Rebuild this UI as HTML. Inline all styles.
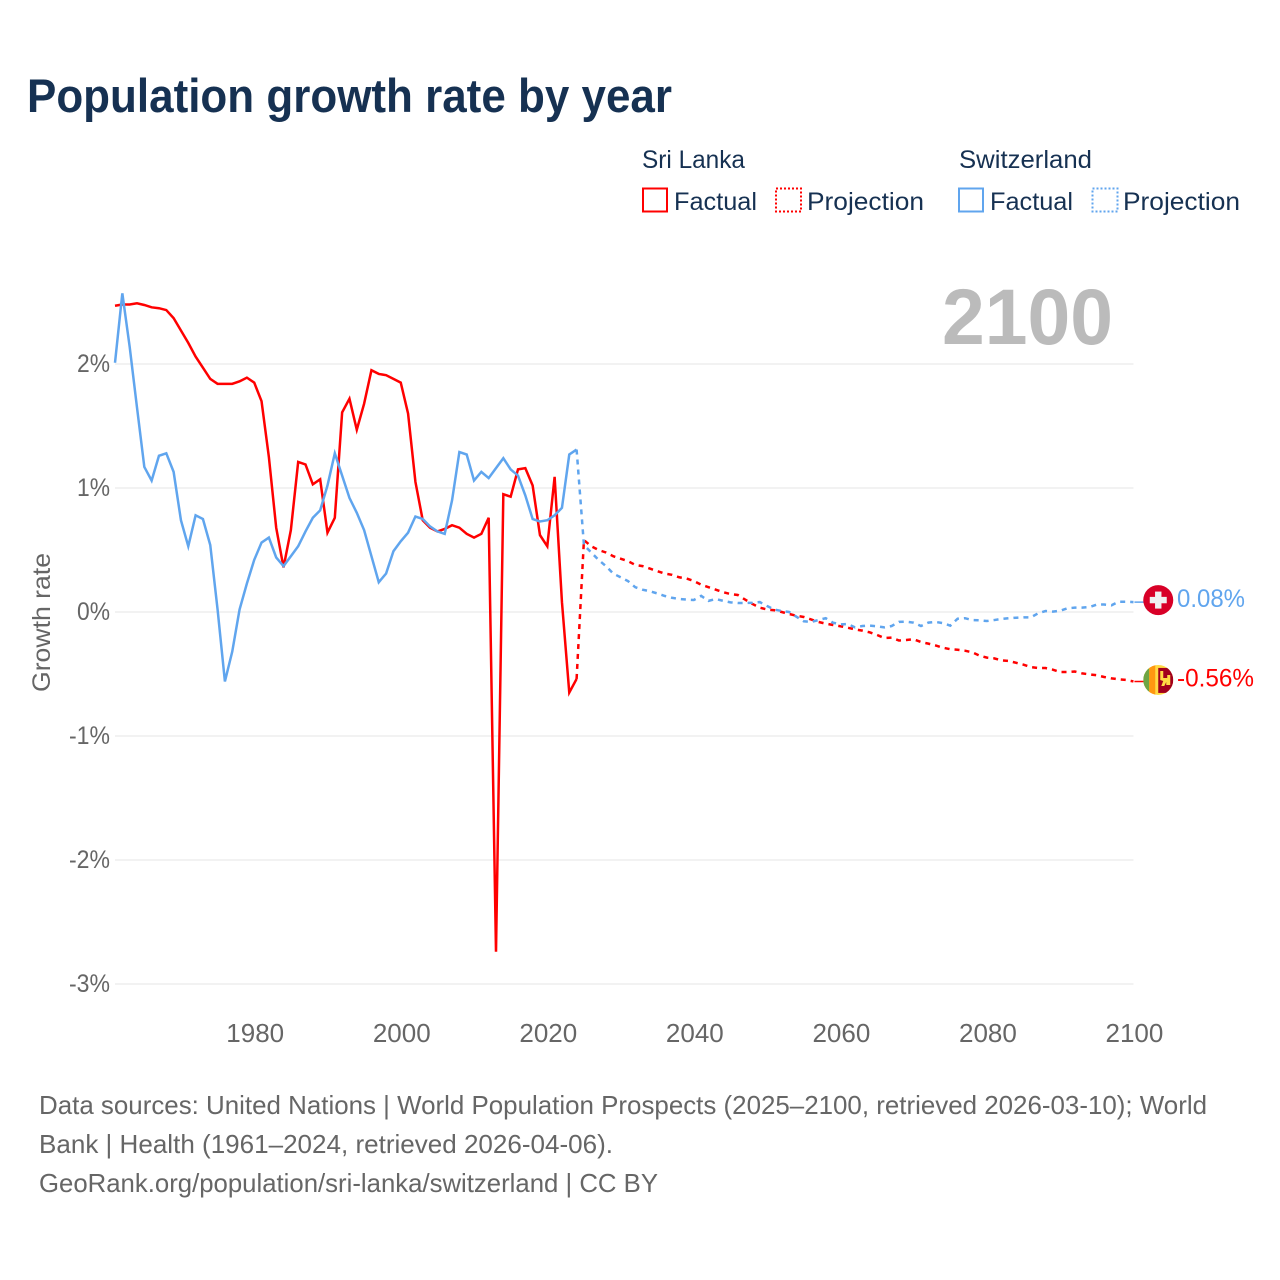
<!DOCTYPE html>
<html lang="en">
<head>
<meta charset="utf-8">
<title>Population growth rate by year</title>
<style>
html,body{margin:0;padding:0;background:#fff;width:1280px;height:1280px;overflow:hidden}
svg{display:block}
text{font-family:"Liberation Sans",sans-serif}
</style>
</head>
<body>
<svg id="chart" xmlns="http://www.w3.org/2000/svg" width="1280" height="1280" viewBox="0 0 1280 1280">
  <text x="27" y="112" font-size="47" font-weight="700" fill="#163152" textLength="645" lengthAdjust="spacingAndGlyphs">Population growth rate by year</text>

  <g fill="#163152" font-size="25">
    <text x="642" y="168" textLength="103" lengthAdjust="spacingAndGlyphs">Sri Lanka</text>
    <rect x="643" y="188.500" width="24" height="23" fill="none" stroke="#ff0000" stroke-width="2"/>
    <text x="674" y="210" textLength="83" lengthAdjust="spacingAndGlyphs">Factual</text>
    <rect x="776" y="188.500" width="25" height="23" fill="none" stroke="#ff0000" stroke-width="2" stroke-dasharray="2 2"/>
    <text x="807" y="210" textLength="117" lengthAdjust="spacingAndGlyphs">Projection</text>
    <text x="959" y="168" textLength="133" lengthAdjust="spacingAndGlyphs">Switzerland</text>
    <rect x="959" y="188.500" width="24" height="23" fill="none" stroke="#60a5ee" stroke-width="2"/>
    <text x="990" y="210" textLength="83" lengthAdjust="spacingAndGlyphs">Factual</text>
    <rect x="1092.500" y="188.500" width="25" height="23" fill="none" stroke="#60a5ee" stroke-width="2" stroke-dasharray="2 2"/>
    <text x="1123" y="210" textLength="117" lengthAdjust="spacingAndGlyphs">Projection</text>
  </g>

  <g id="grid"></g>
  <text x="1113" y="344" text-anchor="end" font-size="79" font-weight="700" fill="#bbbbbb" textLength="171" lengthAdjust="spacingAndGlyphs">2100</text>
  <g id="y-ticks"></g>
  <g id="x-ticks"></g>
  <text transform="translate(50,692) rotate(-90)" font-size="25" fill="#666666" textLength="139" lengthAdjust="spacingAndGlyphs">Growth rate</text>

  <g id="series"></g>

  <defs>
    <clipPath id="flag-clip"><circle cx="0" cy="0" r="15"/></clipPath>
  </defs>
  <g id="flag-ch">
    <circle cx="0" cy="0" r="15" fill="#d80027"/>
    <rect x="-8.500" y="-3.200" width="17" height="6.400" fill="#f0f0f0"/>
    <rect x="-3.200" y="-8.500" width="6.400" height="17" fill="#f0f0f0"/>
  </g>
  <g id="flag-lk">
    <g clip-path="url(#flag-clip)">
      <rect x="-15" y="-15" width="30" height="30" fill="#ffda44"/>
      <rect x="-15" y="-15" width="6" height="30" fill="#6da544"/>
      <rect x="-9" y="-15" width="6" height="30" fill="#ff9811"/>
      <rect x="0" y="-12" width="15" height="25" fill="#a2001d"/>
      <polygon points="2,-9 5,-9 5,-2 9,-2 9,-5 12,-5 12,5 8,5 8,2 6,6 3,6 5,1 2,0" fill="#ffda44"/>
    </g>
  </g>
  <text id="label-ch" x="1177" y="607" font-size="25" fill="#60a5ee" textLength="68" lengthAdjust="spacingAndGlyphs"></text>
  <text id="label-lk" x="1177" y="686" font-size="25" fill="#ff0000" textLength="77" lengthAdjust="spacingAndGlyphs"></text>

  <g fill="#666666" font-size="26">
    <text x="39" y="1114" textLength="1168" lengthAdjust="spacingAndGlyphs">Data sources: United Nations | World Population Prospects (2025–2100, retrieved 2026-03-10); World</text>
    <text x="39" y="1153" textLength="574" lengthAdjust="spacingAndGlyphs">Bank | Health (1961–2024, retrieved 2026-04-06).</text>
    <text x="39" y="1192" textLength="619" lengthAdjust="spacingAndGlyphs">GeoRank.org/population/sri-lanka/switzerland | CC BY</text>
  </g>
</svg>

<script>
const firstFactualYear = 1961;
const firstProjectionYear = 2025;

const xTickYears = [1980, 2000, 2020, 2040, 2060, 2080, 2100];
const yTickValues = [2, 1, 0, -1, -2, -3];
const yTickLabels = ['2%', '1%', '0%', '-1%', '-2%', '-3%'];

const sriLankaFactual = [
  2.47,2.48,2.48,2.49,2.476,2.457,2.45,2.435,2.37,2.27,
  2.17,2.06,1.97,1.88,1.84,1.84,1.84,1.86,1.89,1.85,
  1.70,1.25,0.68,0.36,0.66,1.21,1.19,1.03,1.07,0.64,
  0.76,1.61,1.72,1.47,1.68,1.95,1.92,1.91,1.88,1.85,
  1.60,1.05,0.74,0.68,0.65,0.67,0.70,0.68,0.63,0.60,
  0.63,0.76,-2.74,0.95,0.93,1.15,1.16,1.02,0.62,0.53,
  1.09,0.08,-0.65,-0.54
];

const switzerlandFactual = [
  2.01,2.57,2.14,1.65,1.17,1.06,1.26,1.28,1.13,0.74,
  0.53,0.78,0.75,0.54,0.02,-0.56,-0.32,0.02,0.23,0.42,
  0.56,0.60,0.44,0.37,0.45,0.53,0.65,0.76,0.82,1.02,
  1.28,1.10,0.92,0.80,0.66,0.45,0.24,0.31,0.49,0.57,
  0.64,0.77,0.75,0.69,0.65,0.63,0.90,1.29,1.27,1.06,
  1.13,1.08,1.16,1.24,1.15,1.10,0.94,0.75,0.73,0.74,
  0.78,0.84,1.27,1.31
];

const sriLankaProjection = [
  0.58,0.53,0.50,0.48,0.45,0.43,0.41,0.38,0.37,0.35,
  0.33,0.31,0.30,0.28,0.27,0.25,0.22,0.20,0.18,0.16,
  0.145,0.137,0.10,0.065,0.035,0.02,0.014,0,-0.016,-0.03,
  -0.04,-0.06,-0.08,-0.094,-0.105,-0.115,-0.127,-0.14,-0.15,-0.164,
  -0.185,-0.21,-0.207,-0.23,-0.226,-0.22,-0.242,-0.255,-0.27,-0.288,
  -0.30,-0.304,-0.312,-0.325,-0.352,-0.368,-0.374,-0.39,-0.395,-0.41,
  -0.425,-0.444,-0.452,-0.452,-0.465,-0.484,-0.484,-0.48,-0.495,-0.503,
  -0.51,-0.524,-0.535,-0.543,-0.548,-0.56
];

const switzerlandProjection = [
  0.54,0.48,0.42,0.37,0.31,0.28,0.25,0.20,0.18,0.167,
  0.15,0.13,0.115,0.105,0.10,0.097,0.13,0.09,0.105,0.09,
  0.078,0.073,0.073,0.075,0.08,0.048,0.02,0.008,0,-0.038,
  -0.075,-0.08,-0.065,-0.05,-0.086,-0.10,-0.097,-0.124,-0.113,-0.11,
  -0.115,-0.124,-0.113,-0.08,-0.078,-0.086,-0.113,-0.086,-0.08,-0.09,
  -0.11,-0.054,-0.05,-0.065,-0.067,-0.073,-0.065,-0.056,-0.05,-0.046,
  -0.043,-0.043,-0.01,0.008,0.003,0.01,0.03,0.035,0.035,0.04,
  0.06,0.06,0.054,0.083,0.083,0.08
];

const endLabelSwitzerland = '0.08%';
const endLabelSriLanka = '-0.56%';

const SVG_NS = 'http://www.w3.org/2000/svg';
const RED = '#ff0000';
const BLUE = '#60a5ee';
const xScale = function (year) { return 115 + (year - 1961) * 7.327; };
const yScale = function (value) { return 612 - value * 124; };

function seriesPoints(values, startYear) {
  return values.map(function (value, i) {
    return xScale(startYear + i).toFixed(2) + ',' + yScale(value).toFixed(2);
  });
}

const gridLayer = document.getElementById('grid');
const yTickLayer = document.getElementById('y-ticks');
const xTickLayer = document.getElementById('x-ticks');
const seriesLayer = document.getElementById('series');

yTickValues.forEach(function (value, i) {
  const line = document.createElementNS(SVG_NS, 'line');
  line.setAttribute('x1', xScale(firstFactualYear));
  line.setAttribute('x2', xScale(2100));
  line.setAttribute('y1', yScale(value));
  line.setAttribute('y2', yScale(value));
  line.setAttribute('stroke', '#eeeeee');
  line.setAttribute('stroke-width', '1.5');
  
  
  gridLayer.appendChild(line);

  const label = document.createElementNS(SVG_NS, 'text');
  label.setAttribute('x', 110);
  label.setAttribute('y', yScale(value) + 8);
  label.setAttribute('text-anchor', 'end');
  label.setAttribute('font-size', '25');
  label.setAttribute('fill', '#666666');
  label.setAttribute('textLength', yTickLabels[i].length === 2 ? 33 : 41);
  label.setAttribute('lengthAdjust', 'spacingAndGlyphs');
  
  
  label.textContent = yTickLabels[i];
  yTickLayer.appendChild(label);
});

xTickYears.forEach(function (year) {
  const label = document.createElementNS(SVG_NS, 'text');
  label.setAttribute('x', xScale(year) + 1);
  label.setAttribute('y', 1042);
  label.setAttribute('text-anchor', 'middle');
  label.setAttribute('font-size', '26');
  label.setAttribute('fill', '#666666');
  
  
  label.textContent = String(year);
  xTickLayer.appendChild(label);
});

function drawFactual(values, color, name) {
  const line = document.createElementNS(SVG_NS, 'polyline');
  line.setAttribute('points', seriesPoints(values, firstFactualYear).join(' '));
  line.setAttribute('fill', 'none');
  line.setAttribute('stroke', color);
  line.setAttribute('stroke-width', '2.5');
  line.setAttribute('stroke-linejoin', 'miter');
  
  
  seriesLayer.appendChild(line);
}

function drawProjection(values, lastFactualValue, color, name) {
  const allPoints = [xScale(firstProjectionYear - 1).toFixed(2) + ',' + yScale(lastFactualValue).toFixed(2)]
    .concat(seriesPoints(values, firstProjectionYear));
  const line = document.createElementNS(SVG_NS, 'polyline');
  line.setAttribute('points', allPoints.join(' '));
  line.setAttribute('fill', 'none');
  line.setAttribute('stroke', color);
  line.setAttribute('stroke-width', '2.5');
  line.setAttribute('stroke-dasharray', '5 5');
  
  
  seriesLayer.appendChild(line);
}

function drawLeader(lastValue, color, name) {
  const line = document.createElementNS(SVG_NS, 'line');
  line.setAttribute('x1', xScale(2100) + 1);
  line.setAttribute('x2', xScale(2100) + 25);
  line.setAttribute('y1', yScale(lastValue));
  line.setAttribute('y2', yScale(lastValue));
  line.setAttribute('stroke', color);
  line.setAttribute('stroke-width', '1.500');
  
  
  seriesLayer.appendChild(line);
}

drawFactual(sriLankaFactual, RED, 'sri-lanka-factual-line');
drawProjection(sriLankaProjection, sriLankaFactual[sriLankaFactual.length - 1], RED, 'sri-lanka-projection-line');
drawFactual(switzerlandFactual, BLUE, 'switzerland-factual-line');
drawProjection(switzerlandProjection, switzerlandFactual[switzerlandFactual.length - 1], BLUE, 'switzerland-projection-line');

const lastLk = sriLankaProjection[sriLankaProjection.length - 1];
const lastCh = switzerlandProjection[switzerlandProjection.length - 1];
drawLeader(lastLk, RED, 'sri-lanka-leader-line');
drawLeader(lastCh, BLUE, 'switzerland-leader-line');

document.getElementById('flag-ch').setAttribute('transform', 'translate(' + (xScale(2100) + 24.8) + ',' + (yScale(lastCh) - 2) + ')');
document.getElementById('flag-lk').setAttribute('transform', 'translate(' + (xScale(2100) + 24.8) + ',' + (yScale(lastLk) - 1.5) + ')');

const labelCh = document.getElementById('label-ch');
labelCh.textContent = endLabelSwitzerland;
labelCh.setAttribute('y', yScale(lastCh) + 5);
const labelLk = document.getElementById('label-lk');
labelLk.textContent = endLabelSriLanka;
labelLk.setAttribute('y', yScale(lastLk) + 5);
</script>
</body>
</html>
